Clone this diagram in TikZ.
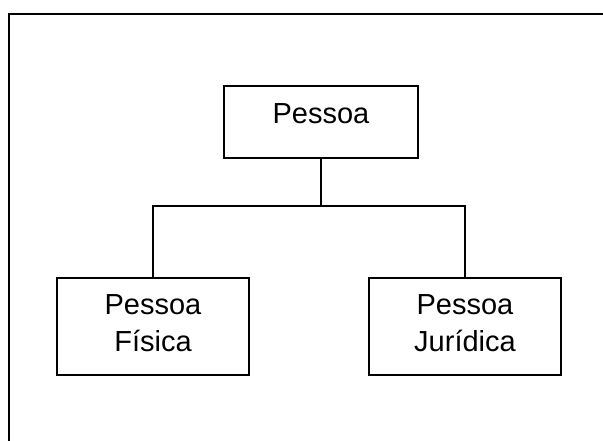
\documentclass[tikz,border=0pt]{standalone}
\usepackage{fontspec}
\setmainfont{Liberation Sans}
\begin{document}
\begin{tikzpicture}[x=1pt,y=-1pt,
  frame/.style={line width=2pt},
  entity/.style={draw, line width=1.5pt, rectangle, minimum width=192pt,
    inner sep=0pt, align=center,
    font=\fontsize{29}{37}\selectfont},
  twoline/.style={entity, minimum height=97pt, text height=58pt, text depth=9pt},
  link/.style={line width=1.3pt}]
\useasboundingbox (0,0) rectangle (603,441);
% outer frame, only its top and left edges fall inside the page
\draw[frame] (9,441) -- (9,14) -- (603,14);

\node[entity, minimum width=194pt, minimum height=72pt,
      text height=21pt, text depth=18pt] (pessoa) at (321,122) {Pessoa};
\node[twoline] (fisica) at (153,326.5) {Pessoa\\Física};
\node[twoline] (juridica) at (465,326.5) {Pessoa\\Jurídica};

\coordinate (bus) at (321,206);
\draw[link] (pessoa.south) -- (bus);
\draw[link] (fisica.north) |- (bus) -| (juridica.north);
\end{tikzpicture}
\end{document}
